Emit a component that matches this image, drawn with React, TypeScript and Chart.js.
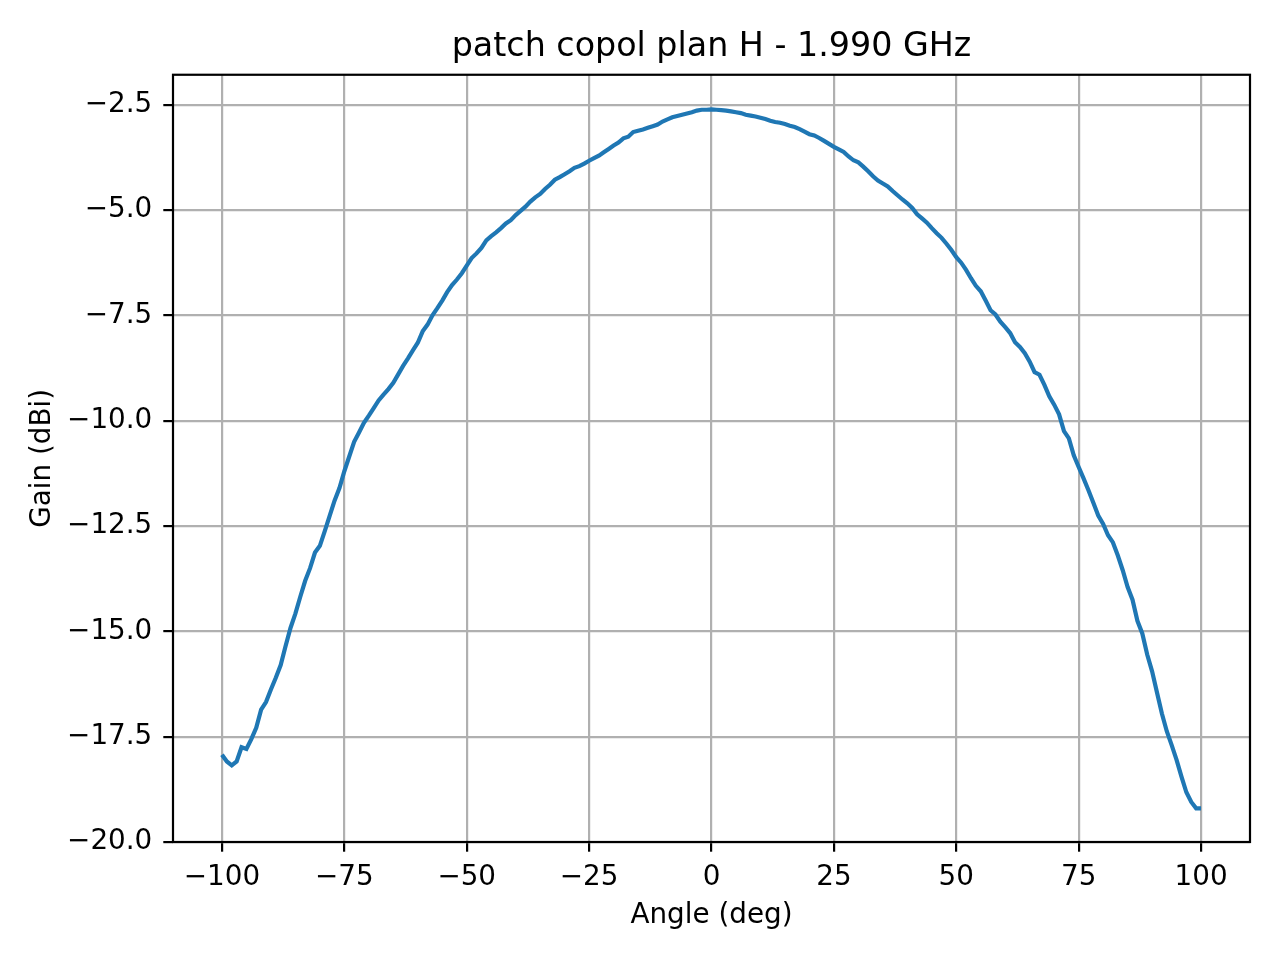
import { useEffect, useRef } from "react"
import { Chart, registerables } from "chart.js"

Chart.register(...registerables)

// Measured gain pattern, one point per degree from -100 to 100
const angles: number[] = []
for (let a = -100; a <= 100; a++) angles.push(a)

const gain = [
  -17.93, -18.09, -18.18, -18.09, -17.75, -17.79, -17.56, -17.29, -16.86, -16.68,
  -16.38, -16.1, -15.8, -15.35, -14.92, -14.58, -14.18, -13.8, -13.5, -13.13,
  -12.97, -12.62, -12.26, -11.9, -11.6, -11.2, -10.85, -10.5, -10.28, -10.05,
  -9.88, -9.7, -9.52, -9.38, -9.25, -9.1, -8.9, -8.7, -8.52, -8.33,
  -8.15, -7.88, -7.72, -7.5, -7.33, -7.15, -6.95, -6.78, -6.65, -6.5,
  -6.32, -6.14, -6.03, -5.9, -5.72, -5.62, -5.53, -5.43, -5.32, -5.24,
  -5.12, -5.02, -4.92, -4.8, -4.7, -4.62, -4.5, -4.4, -4.28, -4.22,
  -4.15, -4.08, -4.0, -3.96, -3.9, -3.83, -3.77, -3.71, -3.63, -3.55,
  -3.47, -3.4, -3.3, -3.26, -3.15, -3.12, -3.09, -3.05, -3.01, -2.97,
  -2.9, -2.85, -2.8, -2.77, -2.74, -2.71, -2.68, -2.64, -2.62, -2.62,
  -2.61,
  -2.62, -2.63, -2.64, -2.66, -2.68, -2.7, -2.74, -2.76, -2.78, -2.81,
  -2.84, -2.88, -2.91, -2.93, -2.96, -3.0, -3.03, -3.08, -3.14, -3.2,
  -3.23, -3.29, -3.36, -3.43, -3.5, -3.56, -3.62, -3.73, -3.82, -3.87,
  -3.97, -4.08, -4.2, -4.3, -4.37, -4.44, -4.55, -4.65, -4.75, -4.84,
  -4.95, -5.1, -5.2, -5.3, -5.43, -5.55, -5.66, -5.8, -5.95, -6.12,
  -6.25, -6.42, -6.62, -6.8, -6.93, -7.15, -7.38, -7.48, -7.65, -7.78,
  -7.92, -8.14, -8.25, -8.4, -8.6, -8.85, -8.91, -9.15, -9.42, -9.62,
  -9.85, -10.25, -10.42, -10.82, -11.1, -11.37, -11.65, -11.95, -12.25, -12.45,
  -12.72, -12.89, -13.2, -13.55, -13.95, -14.25, -14.75, -15.05, -15.55, -15.95,
  -16.45, -16.95, -17.37, -17.7, -18.05, -18.45, -18.82, -19.05, -19.2, -19.2,
]

const xTicks = [-100, -75, -50, -25, 0, 25, 50, 75, 100]
const yTicks = [-20, -17.5, -15, -12.5, -10, -7.5, -5, -2.5]

const FONT = "'DejaVu Sans', sans-serif"

// matplotlib draws a frame on all four sides
const frame = {
  id: "frame",
  afterDraw(chart: Chart) {
    const { ctx, chartArea } = chart
    ctx.save()
    ctx.strokeStyle = "#000"
    ctx.lineWidth = 2.2
    ctx.strokeRect(chartArea.left, chartArea.top, chartArea.right - chartArea.left, chartArea.bottom - chartArea.top)
    ctx.restore()
  },
}

export default function App() {
  const chartRef = useRef<HTMLCanvasElement>(null)
  const chartInstance = useRef<Chart | null>(null)

  useEffect(() => {
    document.body.style.margin = "0"
    if (!chartRef.current) return

    if (chartInstance.current) {
      chartInstance.current.destroy()
    }

    const ctx = chartRef.current.getContext("2d")
    if (!ctx) return

    chartInstance.current = new Chart(ctx, {
      type: "line",
      data: {
        datasets: [
          {
            data: angles.map((a, i) => ({ x: a, y: gain[i] })),
            borderColor: "#1f77b4",
            borderWidth: 4.2,
            pointRadius: 0,
            tension: 0,
            fill: false,
          },
        ],
      },
      options: {
        responsive: false,
        animation: false,
        devicePixelRatio: 1,
        layout: { padding: { left: 0, right: 30, top: 0, bottom: 0 } },
        plugins: {
          legend: { display: false },
          tooltip: { enabled: false },
          title: {
            display: true,
            fullSize: false,
            text: "patch copol plan H - 1.990 GHz",
            color: "#000",
            font: { family: FONT, size: 33.3, weight: "normal" },
            padding: { top: 27, bottom: 7.8 },
          },
        },
        scales: {
          x: {
            type: "linear",
            min: -110,
            max: 110,
            afterBuildTicks: (scale) => {
              scale.ticks = xTicks.map((v) => ({ value: v }))
            },
            afterFit: (scale) => {
              scale.height = 118
            },
            grid: {
              color: "#b0b0b0",
              lineWidth: 2.2,
              tickColor: "#000",
              tickLength: 9.7,
              tickWidth: 2.2,
            },
            border: { display: false },
            ticks: {
              color: "#000",
              font: { family: FONT, size: 27.8 },
              padding: 9,
              maxRotation: 0,
              callback: (v) => String(v).replace("-", "\u2212"),
            },
            title: {
              display: true,
              text: "Angle (deg)",
              color: "#000",
              font: { family: FONT, size: 27.8 },
              padding: { bottom: 28 },
            },
          },
          y: {
            type: "linear",
            min: -20,
            max: -1.79,
            afterBuildTicks: (scale) => {
              scale.ticks = yTicks.map((v) => ({ value: v }))
            },
            afterFit: (scale) => {
              scale.width = 173
            },
            grid: {
              color: "#b0b0b0",
              lineWidth: 2.2,
              tickColor: "#000",
              tickLength: 9.7,
              tickWidth: 2.2,
            },
            border: { display: false },
            ticks: {
              color: "#000",
              font: { family: FONT, size: 27.8 },
              padding: 11,
              callback: (v) => Number(v).toFixed(1).replace("-", "\u2212"),
            },
            title: {
              display: true,
              text: "Gain (dBi)",
              color: "#000",
              font: { family: FONT, size: 27.8 },
              padding: { top: 26 },
            },
          },
        },
      },
      plugins: [frame],
    })

    return () => {
      if (chartInstance.current) {
        chartInstance.current.destroy()
        chartInstance.current = null
      }
    }
  }, [])

  return (
    <div style={{ width: 1280, height: 960, background: "#fff" }}>
      <canvas ref={chartRef} width={1280} height={960} />
    </div>
  )
}
